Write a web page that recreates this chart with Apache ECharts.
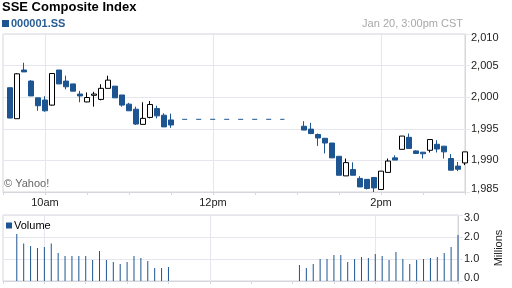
<!DOCTYPE html>
<html><head><meta charset="utf-8">
<script src="https://cdn.jsdelivr.net/npm/echarts@6/dist/echarts.min.js"></script>
<style>html,body{margin:0;padding:0;background:#fff}#c{width:512px;height:288px}</style>
</head><body><div id="c"></div>
<script>
// ---- data ----
const morningTimes = ['9:35','9:40','9:45','9:50','9:55','10:00','10:05','10:10','10:15','10:20','10:25','10:30',
  '10:35','10:40','10:45','10:50','10:55','11:00','11:05','11:10','11:15','11:20','11:25','11:30'];
const afternoonTimes = ['13:05','13:10','13:15','13:20','13:25','13:30','13:35','13:40','13:45','13:50','13:55','14:00',
  '14:05','14:10','14:15','14:20','14:25','14:30','14:35','14:40','14:45','14:50','14:55','15:00'];
// [open, close, low, high]
const candlesAM = [
  [2001.5,1996.7,1996.7,2001.5],[1996.6,2003.7,1996.6,2003.8],[2004.3,2004.0,2004.0,2005.45],[2002.55,2000.2,2000.2,2002.7],
  [1999.9,1998.65,1997.85,1999.9],[1999.55,1997.85,1997.7,2000.15],[1998.75,2003.75,1998.65,2003.75],[2004.3,2002.1,2002.1,2004.3],
  [2002.55,2001.65,2001.25,2003.4],[2002.1,2000.95,2000.95,2002.1],[2000.5,2000.2,1999.2,2001.0],[1999.25,1999.95,1999.2,2000.75],
  [2000.3,2000.5,1998.5,2000.85],[1999.65,2001.4,1999.5,2002.05],[2001.4,2002.7,2001.4,2003.4],[2001.75,1999.9,1999.9,2001.75],
  [2000.35,1998.75,1998.5,2000.35],[1998.9,1997.85,1997.85,1999.1],[1998.1,1995.75,1995.6,1998.5],[1995.7,1996.65,1995.7,1999.2],
  [1996.8,1998.85,1996.65,1999.4],[1998.2,1997.05,1996.65,1998.65],[1997.15,1995.3,1995.3,1997.45],[1996.4,1995.6,1995.15,1997.4]
];
const candlesPM = [
  [1995.4,1994.8,1994.8,1996.2],[1994.95,1994.25,1994.15,1995.95],[1994.1,1993.55,1992.3,1994.25],[1993.5,1992.75,1991.1,1993.5],
  [1992.75,1990.4,1990.4,1992.75],[1990.65,1987.65,1987.65,1990.65],[1987.55,1989.65,1987.55,1990.3],[1988.55,1987.65,1987.65,1989.7],
  [1987.15,1985.8,1985.8,1987.5],[1987.0,1985.55,1985.4,1987.0],[1987.3,1985.65,1985.0,1987.3],[1985.4,1988.3,1985.4,1988.3],
  [1988.1,1989.9,1988.1,1990.3],[1990.4,1990.05,1990.05,1990.8],[1991.75,1993.85,1991.75,1993.85],[1993.65,1991.9,1991.9,1994.25],
  [1991.5,1991.1,1991.1,1991.6],[1991.3,1991.05,1990.3,1991.3],[1991.6,1993.3,1991.25,1993.3],[1992.55,1991.8,1991.25,1993.2],
  [1992.25,1991.35,1990.3,1992.25],[1990.3,1988.45,1988.45,1991.0],[1989.1,1988.6,1988.3,1989.75],[1989.6,1991.35,1989.25,1991.35]
];
// volume in millions
const volumeAM = [null,2.14,1.70,1.59,1.50,1.55,1.70,1.27,1.14,1.14,1.14,1.14,0.95,1.36,0.95,0.86,0.77,0.86,1.14,1.05,0.91,0.59,0.59,0.64];
const volumePM = [0.73,0.59,0.77,1.0,1.0,1.18,1.18,0.86,1.0,1.09,1.05,1.23,1.14,0.95,1.32,1.0,0.77,0.95,1.0,1.05,1.09,1.27,1.55,2.09];
const gapTimes = ['11:38','12:51'];
const gapLevel = 1996.5;
const xLabels = {'10:00':'10am','12:00':'12pm','14:00':'2pm'};
const priceTicks = [1985,1990,1995,2000,2005,2010];
const volumeTicks = [0,1,2,3];

// ---- build ----
const toMin = s => { const p = s.split(':').map(Number); return p[0]*60 + p[1]; };
const labelByMin = {};
Object.keys(xLabels).forEach(k => labelByMin[toMin(k)] = xLabels[k]);
const times = morningTimes.concat(afternoonTimes).map(toMin);
const candles = candlesAM.concat(candlesPM);
const volumes = volumeAM.concat(volumePM);
const candleData = times.map((t,i) => [t].concat(candles[i]));
const volData = times.map((t,i) => [t, volumes[i]]).filter(d => d[1] != null);
const gapData = gapTimes.map(s => [toMin(s), gapLevel]);

const BLUE = '#1c5591';
const GRID = '#e6e6ee';
const BORDER = '#d6d6dc';
const FONT = '"Liberation Sans", Arial, sans-serif';
const fmtComma = v => String(v).replace(/\B(?=(\d{3})+(?!\d))/g, ',');
const splitColors = ['rgba(0,0,0,0)', GRID, 'rgba(0,0,0,0)', 'rgba(0,0,0,0)'];

const xBase = (gi, showLabel) => ({
  type:'value', gridIndex:gi, min:toMin('9:30'), max:toMin('15:00'), interval:30,
  axisLine:{show:true, lineStyle:{color:BORDER}},
  axisTick:{show:true, length:3, lineStyle:{color:BORDER}},
  axisLabel:{show:showLabel, margin:5, fontSize:11, color:'#222', fontFamily:FONT,
    formatter: v => labelByMin[v] || ''},
  splitLine:{show:true, lineStyle:{color:splitColors}}
});

const chart = echarts.init(document.getElementById('c'), null, {renderer:'canvas'});
chart.setOption({
  animation:false,
  textStyle:{fontFamily:FONT},
  title:[
    {text:'SSE Composite Index', left:2, top:0, padding:[1,0,0,0],
      textStyle:{fontSize:13, fontWeight:'bold', color:'#000', fontFamily:FONT}},
    {text:'Jan 20, 3:00pm CST', right:49, top:18, padding:0,
      textStyle:{fontSize:11, fontWeight:'normal', color:'#a8a8a8', fontFamily:FONT}},
    {text:'© Yahoo!', left:4, top:178, padding:0,
      textStyle:{fontSize:11, fontWeight:'normal', color:'#666', fontFamily:FONT}}
  ],
  legend:[
    {data:[{name:'000001.SS', icon:'rect', itemStyle:{color:BLUE, borderWidth:0}}], left:2, top:18, padding:0,
      itemWidth:7, itemHeight:7, selectedMode:false,
      textStyle:{color:'#2a5c94', fontWeight:'bold', fontSize:11, fontFamily:FONT, padding:[0,0,0,-3]}},
    {data:[{name:'Volume', icon:'rect', itemStyle:{color:BLUE}}], left:6, top:220, padding:0,
      itemWidth:6, itemHeight:6, selectedMode:false,
      textStyle:{color:'#000', fontSize:11, fontFamily:FONT, padding:[0,0,0,-3]}}
  ],
  grid:[
    {left:3, top:34, width:462, height:158, show:true, borderColor:BORDER, borderWidth:1, containLabel:false},
    {left:3, top:215, width:462, height:66, show:true, borderColor:BORDER, borderWidth:1, containLabel:false}
  ],
  xAxis:[ xBase(0, true), xBase(1, false) ],
  yAxis:[
    {type:'value', gridIndex:0, position:'right', min:priceTicks[0], max:priceTicks[priceTicks.length-1], interval:5,
      axisLine:{show:true, lineStyle:{color:BORDER}},
      axisTick:{show:true, length:5, lineStyle:{color:GRID}},
      axisLabel:{margin:6, fontSize:11, color:'#222', fontFamily:FONT,
        formatter: v => v === priceTicks[priceTicks.length-1] ? '{t|' + fmtComma(v) + '}' :
                        v === priceTicks[0] ? '{b|' + fmtComma(v) + '}' : fmtComma(v),
        rich:{t:{padding:[7,0,0,0], fontSize:11, color:'#222', fontFamily:FONT},
              b:{padding:[0,0,7,0], fontSize:11, color:'#222', fontFamily:FONT}}},
      splitLine:{show:true, lineStyle:{color:GRID}}},
    {type:'value', gridIndex:1, position:'right', min:volumeTicks[0], max:volumeTicks[volumeTicks.length-1], interval:1,
      name:'Millions', nameLocation:'middle', nameRotate:90, nameGap:35,
      nameTextStyle:{fontSize:11, color:'#222', fontFamily:FONT},
      axisLine:{show:true, lineStyle:{color:BORDER}},
      axisTick:{show:true, length:5, lineStyle:{color:GRID}},
      axisLabel:{margin:6, fontSize:11, color:'#222', fontFamily:FONT,
        formatter: v => v === volumeTicks[volumeTicks.length-1] ? '{t|' + v.toFixed(1) + '}' :
                        v === volumeTicks[0] ? '{b|' + v.toFixed(1) + '}' : v.toFixed(1),
        rich:{t:{padding:[6,0,0,0], fontSize:11, color:'#222', fontFamily:FONT},
              b:{padding:[0,0,6,0], fontSize:11, color:'#222', fontFamily:FONT}}},
      splitLine:{show:true, lineStyle:{color:GRID}}}
  ],
  series:[
    {name:'000001.SS', type:'candlestick', xAxisIndex:0, yAxisIndex:0, data:candleData,
      encode:{x:0, y:[1,2,3,4]}, barWidth:5, clip:false,
      itemStyle:{color:'#fff', color0:BLUE, borderColor:'#000', borderColor0:BLUE, borderWidth:1}},
    {name:'gap', type:'line', xAxisIndex:0, yAxisIndex:0, data:gapData, symbol:'none', silent:true,
      lineStyle:{color:BLUE, width:1, type:[5,9]}},
    {name:'Volume', type:'bar', xAxisIndex:1, yAxisIndex:1, data:volData, barWidth:1,
      itemStyle:{color:BLUE}}
  ]
});
</script>
</body></html>
